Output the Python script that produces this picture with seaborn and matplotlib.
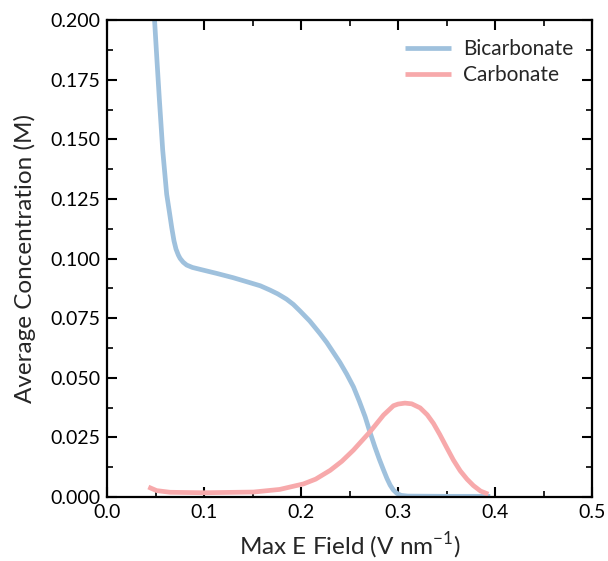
import matplotlib
matplotlib.use("Agg")
import matplotlib.pyplot as plt
import seaborn as sns
import pandas as pd
from matplotlib.ticker import MultipleLocator

bicarb_x = [0.049, 0.0515, 0.054, 0.0574, 0.0615, 0.0645, 0.0667, 0.0690, 0.0711, 0.0735,
            0.0753, 0.0785, 0.0821, 0.0880, 0.0959, 0.113, 0.130, 0.1474, 0.158, 0.168,
            0.176, 0.185, 0.192, 0.199, 0.209, 0.2196, 0.2265, 0.233, 0.240, 0.247,
            0.254, 0.260, 0.266, 0.271, 0.276, 0.2805, 0.285, 0.2885, 0.2918, 0.295,
            0.2986, 0.303, 0.310, 0.350, 0.395]
bicarb_y = [0.200, 0.183, 0.1665, 0.1455, 0.127, 0.119, 0.113, 0.1075, 0.1040, 0.1015,
            0.1001, 0.0985, 0.0973, 0.0963, 0.0955, 0.0938, 0.0920, 0.0899, 0.0886, 0.0868,
            0.0852, 0.0830, 0.0808, 0.0780, 0.0738, 0.0685, 0.0648, 0.0608, 0.0565, 0.0516,
            0.0462, 0.0402, 0.0337, 0.0272, 0.0211, 0.0160, 0.0113, 0.0078, 0.0050, 0.0030,
            0.0016, 0.0007, 0.0004, 0.0003, 0.0003]

carb_x = [0.0426, 0.0511, 0.065, 0.0993, 0.151, 0.178, 0.2024, 0.215, 0.230, 0.242,
          0.254, 0.2711, 0.285, 0.2952, 0.300, 0.307, 0.314, 0.3227, 0.330, 0.3364,
          0.343, 0.350, 0.357, 0.364, 0.371, 0.3776, 0.385, 0.393]
carb_y = [0.0042, 0.0027, 0.0020, 0.0018, 0.0021, 0.0032, 0.0055, 0.0075, 0.0112, 0.0150,
          0.0197, 0.0274, 0.0344, 0.0383, 0.0390, 0.0394, 0.0391, 0.0374, 0.0345, 0.0309,
          0.0262, 0.0208, 0.0155, 0.0110, 0.0075, 0.0048, 0.0025, 0.0012]

series_names = ["Bicarbonate", "Carbonate"]
colors = ["#9fc1dd", "#f7a9ab"]

df = pd.concat([
    pd.DataFrame({"x": bicarb_x, "y": bicarb_y, "series": series_names[0]}),
    pd.DataFrame({"x": carb_x, "y": carb_y, "series": series_names[1]}),
], ignore_index=True)

sns.set_style("ticks")
plt.rcParams["font.family"] = ["Lato", "DejaVu Sans"]
plt.rcParams["mathtext.fontset"] = "custom"
plt.rcParams["mathtext.rm"] = "Lato"

fig = plt.figure(figsize=(6.08, 5.61), dpi=100)
ax = fig.add_axes([0.176, 0.114, 0.798, 0.850])

sns.lineplot(data=df, x="x", y="y", hue="series", palette=dict(zip(series_names, colors)),
             linewidth=3.4, ax=ax, sort=False, estimator=None)
for ln in ax.get_lines():
    ln.set_solid_capstyle("butt")
    ln.set_solid_joinstyle("round")

ax.set_xlim(0, 0.5)
ax.set_ylim(0, 0.2)
ax.xaxis.set_major_locator(MultipleLocator(0.1))
ax.xaxis.set_minor_locator(MultipleLocator(0.05))
ax.yaxis.set_major_locator(MultipleLocator(0.025))
ax.yaxis.set_minor_locator(MultipleLocator(0.0125))
ax.set_xticklabels([f"{v:.1f}" for v in ax.get_xticks()])
ax.set_yticklabels([f"{v:.3f}" for v in ax.get_yticks()])

for s in ax.spines.values():
    s.set_visible(True)
    s.set_linewidth(1.6)
    s.set_color("black")
ax.tick_params(which="both", direction="in", top=True, right=True, colors="black",
               labelsize=14)
ax.tick_params(which="major", length=7, width=1.5, pad=5)
ax.tick_params(which="minor", length=4, width=1.2)

ax.set_xlabel("Max E Field (V nm$^{-1}$)", fontsize=17.5, labelpad=7)
ax.set_ylabel("Average Concentration (M)", fontsize=17.5, labelpad=10)

leg = ax.legend(loc="upper right", frameon=False, fontsize=15, handlelength=2.2,
                handletextpad=0.6, borderaxespad=0.5, labelspacing=0.3)
for line in leg.get_lines():
    line.set_linewidth(3.4)

fig.savefig("out.png", dpi=100)
